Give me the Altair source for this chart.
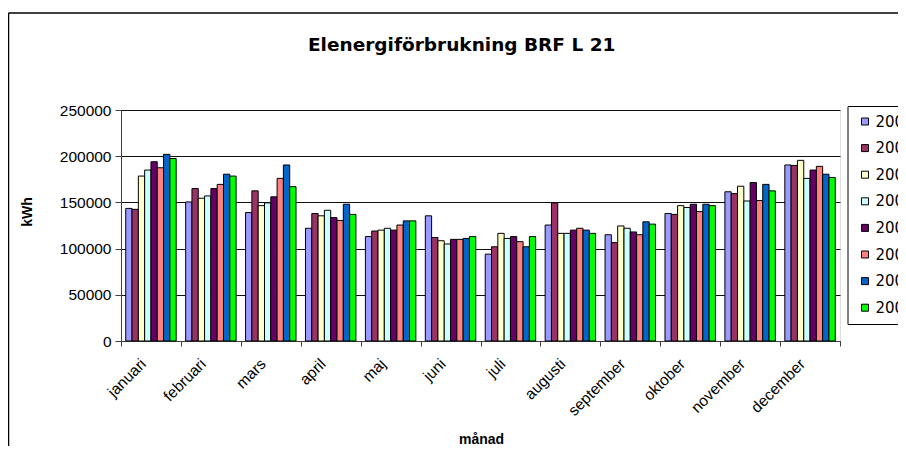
import altair as alt
import pandas as pd

months = ["januari", "februari", "mars", "april", "maj", "juni", "juli",
          "augusti", "september", "oktober", "november", "december"]
years = ["2000", "2001", "2002", "2003", "2004", "2005", "2006", "2007"]
colors = ["#9999FF", "#993366", "#FFFFCC", "#CCFFFF", "#660066", "#FF8080", "#0066CC", "#00FF00"]
title_text = "Elenergiförbrukning BRF L 21"

v2000 = [143500, 150500, 139000, 122000, 113000, 135500, 94000, 125500, 115000, 138000, 161500, 190500]
v2001 = [142500, 165000, 162500, 138000, 119000, 112000, 102000, 149500, 106500, 137000, 159500, 190000]
v2002 = [178500, 154500, 146500, 135500, 120000, 108500, 116500, 116500, 124500, 146500, 167500, 195500]
v2003 = [185000, 157000, 149500, 141500, 122000, 105000, 111000, 116500, 122000, 144500, 151500, 176000]
v2004 = [194000, 165000, 156000, 133500, 120000, 110000, 113000, 120000, 118000, 148000, 171500, 185000]
v2005 = [187500, 169500, 176000, 130500, 125500, 110000, 107500, 122000, 115000, 140000, 152000, 189000]
v2006 = [202000, 180500, 190500, 148000, 130000, 111000, 102000, 120000, 129000, 148000, 169500, 180500]
v2007 = [197500, 178500, 167000, 137000, 130000, 113000, 113000, 116500, 126500, 146500, 162500, 177000]

series = [v2000, v2001, v2002, v2003, v2004, v2005, v2006, v2007]
rows = []
for y, vals in zip(years, series):
    for m, v in zip(months, vals):
        rows.append({"månad": m, "år": y, "kWh": v})
df = pd.DataFrame(rows)

FONT = "DejaVu Sans"

bars = alt.Chart(df).mark_bar(stroke="black", strokeWidth=1).encode(
    x=alt.X("månad:N", sort=months,
            scale=alt.Scale(paddingInner=0, paddingOuter=0),
            axis=alt.Axis(title="månad", labelAngle=-45, labelAlign="right",
                          labelBaseline="middle", labelOffset=-8, labelPadding=15,
                          tickBand="extent", tickSize=5, tickColor="#404040",
                          domainColor="#404040", labelFontSize=15.5,
                          titleX=360, titleY=102, titleBaseline="alphabetic",
                          titleFontSize=14)),
    xOffset=alt.XOffset("år:N", sort=years,
                        scale=alt.Scale(paddingInner=0, paddingOuter=0.75)),
    y=alt.Y("kWh:Q", scale=alt.Scale(domain=[0, 250000], nice=False),
            axis=alt.Axis(title="kWh", values=[0, 50000, 100000, 150000, 200000, 250000],
                          format="d", grid=True, gridColor="#101010", gridWidth=1,
                          tickSize=6, labelPadding=4, tickColor="#404040",
                          domainColor="#404040", labelFontSize=15.5,
                          titleX=-93.5, titleY=101.5, titleAngle=270,
                          titleAlign="center", titleBaseline="middle",
                          titleFontSize=14)),
    color=alt.Color("år:N", sort=years,
                    scale=alt.Scale(domain=years, range=colors),
                    legend=alt.Legend(title=None, orient="none", legendX=726.5, legendY=-4,
                                      strokeColor="black", fillColor="white", padding=8,
                                      symbolType="square", symbolSize=49,
                                      symbolStrokeColor="black", symbolStrokeWidth=1,
                                      symbolOffset=2, labelOffset=3, labelFontSize=15,
                                      labelFont=FONT, rowPadding=10.6)),
)

frame_df = pd.DataFrame({"label": [title_text]})
frame_left = alt.Chart(frame_df).mark_rule(color="black", strokeWidth=1.5).encode(
    x=alt.value(-112.5), y=alt.value(-97), y2=alt.value(400))
frame_top = alt.Chart(frame_df).mark_rule(color="black", strokeWidth=1.5).encode(
    x=alt.value(-112.5), x2=alt.value(900), y=alt.value(-97))
title = alt.Chart(frame_df).mark_text(
    font=FONT, fontSize=18.5, fontWeight="bold", color="black",
    align="center", baseline="alphabetic"
).encode(text="label:N", x=alt.value(340.7), y=alt.value(-58.8))

chart = alt.layer(bars, frame_left, frame_top, title).properties(
    width=719, height=231,
    autosize=alt.AutoSizeParams(type="none"),
    padding={"left": 113, "top": 102, "right": 58, "bottom": 105},
).configure_view(
    fill="#C0C0C0", stroke="#606060", strokeWidth=1
).configure_axis(
    labelFont=FONT, titleFont=FONT, labelColor="black", titleColor="black",
    titleFontWeight="bold"
).configure(background="white")

chart.save("out.html", embed_options={"renderer": "svg", "actions": False})
